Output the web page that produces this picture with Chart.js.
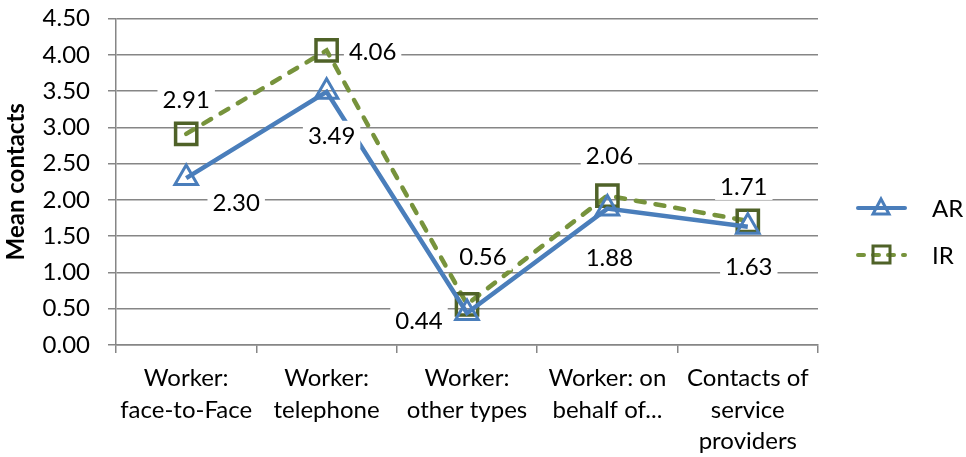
<!DOCTYPE html>
<html>
<head>
<meta charset="utf-8">
<script src="https://cdn.jsdelivr.net/npm/chart.js@4.4.1/dist/chart.umd.min.js"></script>
<style>
  html, body { margin: 0; padding: 0; background: #fff; }
  #wrap { width: 966px; height: 457px; }
</style>
</head>
<body>
<div id="wrap"><canvas id="chart"></canvas></div>
<script>
const categories = [
  ["Worker:", "face-to-Face"],
  ["Worker:", "telephone"],
  ["Worker:", "other types"],
  ["Worker: on", "behalf of..."],
  ["Contacts of", "service", "providers"]
];
const arValues = [2.30, 3.49, 0.44, 1.88, 1.63];
const irValues = [2.91, 4.06, 0.56, 2.06, 1.71];
const yTicks = [0, 0.5, 1, 1.5, 2, 2.5, 3, 3.5, 4, 4.5];

// label offsets from each point, in pixels
const arLabelOffsets = [[50, 24], [5, 43], [-48, 7], [2, 49], [1, 40]];
const irLabelOffsets = [[0, -35], [46, 1], [16, -48], [2, -40], [-4, -35]];

const FONT = "Lato, 'Open Sans', sans-serif";
const FSIZE = 24;
const AR_COLOR = "#4a7ebb";
const IR_LINE = "#77933c";
const IR_MARK = "#4f6228";

const labelPlugin = {
  id: "pointLabels",
  afterDatasetsDraw(chart) {
    const ctx = chart.ctx;
    const offsets = [arLabelOffsets, irLabelOffsets];
    ctx.save();
    ctx.font = FSIZE + "px " + FONT;
    ctx.textAlign = "center";
    ctx.textBaseline = "middle";
    chart.data.datasets.forEach((ds, di) => {
      const meta = chart.getDatasetMeta(di);
      meta.data.forEach((pt, i) => {
        const txt = ds.data[i].toFixed(2);
        const x = pt.x + offsets[di][i][0];
        const y = pt.y + offsets[di][i][1];
        const w = ctx.measureText(txt).width + 10;
        ctx.fillStyle = "#fff";
        ctx.fillRect(x - w / 2, y - 14, w, 28);
        ctx.fillStyle = "#000";
        ctx.fillText(txt, x, y + 1);
      });
    });
    ctx.restore();
  }
};

const legendPlugin = {
  id: "sideLegend",
  afterDraw(chart) {
    const ctx = chart.ctx;
    const x0 = 858, x1 = 905, tx = 932;
    const yA = 208, yI = 255;
    ctx.save();
    ctx.lineCap = "round";
    // AR
    ctx.strokeStyle = AR_COLOR;
    ctx.lineWidth = 4;
    ctx.beginPath();
    ctx.moveTo(x0, yA); ctx.lineTo(x1, yA); ctx.stroke();
    ctx.lineWidth = 3;
    ctx.beginPath();
    ctx.moveTo(881, yA - 9); ctx.lineTo(889, yA + 6); ctx.lineTo(873, yA + 6); ctx.closePath();
    ctx.stroke();
    // IR
    ctx.strokeStyle = IR_LINE;
    ctx.lineWidth = 4;
    ctx.setLineDash([6, 9]);
    ctx.beginPath();
    ctx.moveTo(x0, yI); ctx.lineTo(x1, yI); ctx.stroke();
    ctx.setLineDash([]);
    ctx.strokeStyle = IR_MARK;
    ctx.lineWidth = 3;
    ctx.strokeRect(873, yI - 9, 17, 17);
    ctx.fillStyle = "#000";
    ctx.font = FSIZE + "px " + FONT;
    ctx.textAlign = "left";
    ctx.textBaseline = "middle";
    ctx.fillText("AR", tx, yA + 1);
    ctx.fillText("IR", tx, yI + 1);
    ctx.restore();
  }
};

new Chart(document.getElementById("chart"), {
  type: "line",
  data: {
    labels: categories,
    datasets: [
      {
        label: "AR",
        data: arValues,
        borderColor: AR_COLOR,
        borderWidth: 4.5,
        pointStyle: "triangle",
        pointRadius: 13,
        pointBorderWidth: 3,
        pointBorderColor: AR_COLOR,
        pointBackgroundColor: "rgba(0,0,0,0)",
        tension: 0
      },
      {
        label: "IR",
        data: irValues,
        borderColor: IR_LINE,
        borderWidth: 4.5,
        borderDash: [9, 11],
        borderCapStyle: "round",
        pointStyle: "rect",
        pointRadius: 15,
        pointBorderWidth: 3.5,
        pointBorderColor: IR_MARK,
        pointBackgroundColor: "rgba(0,0,0,0)",
        tension: 0
      }
    ]
  },
  options: {
    responsive: true,
    maintainAspectRatio: false,
    animation: false,
    layout: { padding: { top: 18, right: 148, left: 0, bottom: 0 } },
    plugins: {
      legend: { display: false },
      tooltip: { enabled: false }
    },
    scales: {
      x: {
        offset: true,
        afterFit(scale) { scale.height = 112; },
        grid: {
          offset: true,
          drawOnChartArea: false,
          color: "#868686",
          tickLength: 8,
          lineWidth: 1.5
        },
        border: { color: "#868686", width: 1.5 },
        ticks: {
          color: "#000",
          font: { family: FONT, size: FSIZE, lineHeight: 1.3 },
          padding: 10,
          maxRotation: 0,
          autoSkip: false
        }
      },
      y: {
        min: 0,
        max: 4.5,
        afterFit(scale) {
          scale.width = 116;
          scale.paddingTop = 0;
          scale.paddingBottom = 0;
        },
        afterBuildTicks(scale) {
          scale.ticks = yTicks.map(v => ({ value: v }));
        },
        grid: {
          color: "#868686",
          tickLength: 8,
          lineWidth: 1.5
        },
        border: { color: "#868686", width: 1.5 },
        ticks: {
          color: "#000",
          font: { family: FONT, size: FSIZE },
          padding: 18,
          callback: v => Number(v).toFixed(2)
        },
        title: {
          display: true,
          text: "Mean contacts",
          color: "#000",
          font: { family: FONT, size: 24, weight: "bold" },
          padding: { top: 2, bottom: 4 }
        }
      }
    }
  },
  plugins: [labelPlugin, legendPlugin]
});
</script>
</body>
</html>
